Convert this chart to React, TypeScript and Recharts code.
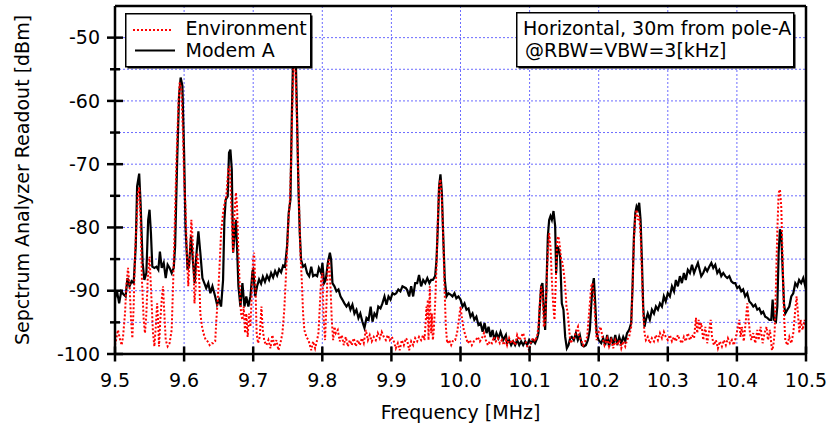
import React from 'react';
import { LineChart, Line, XAxis, YAxis, CartesianGrid, ReferenceLine, Legend, Label } from 'recharts';

const W = 830;
const H = 432;
const MARGIN = { top: 6, right: 24, left: 0, bottom: 0 };
const YAXIS_W = 115;
const XAXIS_H = 78;
const AXIS_X = MARGIN.left + YAXIS_W;
const AXIS_Y = H - MARGIN.bottom - XAXIS_H;
const FONT = '"DejaVu Sans", Arial, sans-serif';
const FS = 19;

const xTicks = [9.5, 9.6, 9.7, 9.8, 9.9, 10.0, 10.1, 10.2, 10.3, 10.4, 10.5];
const yTicks = [-100, -95, -90, -85, -80, -75, -70, -65, -60, -55, -50];
const xDomain: [number, number] = [9.5, 10.5];
const yDomain: [number, number] = [-100, -45];

const seriesNames = ['Environment', 'Modem A'];
const noteLines = ['Horizontal, 30m from pole-A', '@RBW=VBW=3[kHz]'];
const xTitle = 'Frequency [MHz]';
const yTitle = 'Sepctrum Analyzer Readout [dBm]';

// [frequency MHz, dBm]
const modemA: [number, number][] = [
  [9.500,-91.2],[9.503,-90.1],[9.506,-92.0],[9.509,-90.1],[9.5125,-90.6],[9.5154,-90.9],[9.518,-88.0],[9.521,-89.3],[9.524,-88.5],[9.527,-88.8],
  [9.530,-83.0],[9.532,-73.5],[9.535,-71.5],[9.537,-76.1],[9.540,-85.6],[9.5425,-88.3],[9.5454,-87.2],[9.548,-78.8],[9.550,-77.2],[9.552,-80.9],
  [9.554,-86.2],[9.557,-86.4],[9.560,-86.2],[9.5627,-86.7],[9.565,-83.8],[9.5676,-86.4],[9.5705,-85.6],[9.5734,-88.0],[9.5762,-85.9],[9.579,-86.4],
  [9.582,-87.2],[9.585,-86.4],[9.587,-83.0],[9.590,-69.3],[9.5927,-59.2],[9.595,-56.3],[9.5975,-57.6],[9.600,-68.2],[9.602,-79.8],[9.605,-86.7],
  [9.607,-86.2],[9.610,-81.4],[9.613,-85.6],[9.6153,-88.8],[9.618,-84.0],[9.6207,-80.6],[9.6235,-84.0],[9.6265,-88.0],[9.6293,-88.8],[9.632,-89.6],
  [9.635,-88.8],[9.638,-90.4],[9.641,-89.3],[9.645,-90.9],[9.6477,-92.2],[9.6506,-91.4],[9.6535,-92.5],[9.6564,-88.3],[9.6583,-78.8],[9.6602,-75.6],
  [9.6631,-75.1],[9.665,-68.2],[9.667,-67.7],[9.669,-70.8],[9.6709,-84.0],[9.6728,-81.4],[9.675,-78.8],[9.6766,-83.0],[9.6786,-89.3],[9.6815,-92.5],
  [9.6844,-88.8],[9.6873,-92.5],[9.690,-90.9],[9.693,-92.5],[9.696,-90.9],[9.699,-86.9],[9.700,-86.7],[9.703,-90.9],[9.7056,-89.3],[9.7085,-88.2],
  [9.7114,-88.9],[9.714,-87.8],[9.717,-88.6],[9.720,-87.6],[9.723,-88.3],[9.7259,-87.2],[9.7288,-87.9],[9.7317,-86.9],[9.7346,-87.6],[9.7375,-86.6],
  [9.7404,-87.1],[9.7433,-86.0],[9.746,-86.2],[9.749,-83.0],[9.7514,-77.7],[9.7539,-75.6],[9.7558,-62.9],[9.7577,-53.0],[9.7597,-52.0],[9.7616,-53.0],
  [9.7635,-62.9],[9.7654,-73.5],[9.7674,-80.9],[9.7693,-85.1],[9.7722,-86.2],[9.775,-85.9],[9.778,-87.2],[9.781,-87.7],[9.784,-86.2],[9.7867,-87.7],
  [9.7896,-87.5],[9.7925,-87.7],[9.795,-86.4],[9.7983,-87.2],[9.8002,-85.6],[9.8026,-88.8],[9.805,-88.3],[9.808,-85.6],[9.811,-84.0],[9.8128,-85.1],
  [9.8147,-88.8],[9.8176,-89.3],[9.8205,-90.1],[9.8234,-89.8],[9.8263,-90.9],[9.829,-91.4],[9.832,-92.0],[9.835,-92.5],[9.838,-92.0],[9.8407,-93.0],
  [9.8436,-92.2],[9.8465,-93.6],[9.8494,-93.0],[9.8523,-94.3],[9.855,-93.6],[9.858,-94.9],[9.861,-95.9],[9.864,-94.3],[9.867,-94.6],[9.870,-92.5],
  [9.8726,-94.9],[9.8755,-93.6],[9.8784,-94.1],[9.881,-92.5],[9.8842,-92.8],[9.887,-92.0],[9.890,-90.9],[9.8929,-92.2],[9.8958,-90.9],[9.8987,-91.4],
  [9.9016,-90.4],[9.9045,-90.6],[9.907,-90.4],[9.910,-89.8],[9.913,-90.1],[9.916,-89.3],[9.921,-89.6],[9.9228,-89.9],[9.9257,-90.9],[9.9286,-89.3],
  [9.9315,-90.9],[9.9344,-88.8],[9.9373,-88.8],[9.940,-87.5],[9.943,-89.3],[9.946,-88.3],[9.949,-88.8],[9.952,-88.0],[9.955,-88.8],[9.9575,-88.3],
  [9.960,-88.3],[9.9633,-87.7],[9.9653,-85.1],[9.9672,-79.8],[9.969,-73.5],[9.971,-71.6],[9.973,-74.5],[9.975,-81.4],[9.9773,-88.3],[9.9798,-90.9],
  [9.9826,-90.4],[9.9855,-90.6],[9.9884,-90.9],[9.9913,-90.4],[9.994,-91.2],[9.997,-90.9],[10.000,-91.4],[10.003,-92.5],[10.0058,-92.0],[10.0087,-93.0],
  [10.0116,-92.8],[10.0145,-94.1],[10.0174,-93.6],[10.020,-94.6],[10.023,-94.1],[10.026,-95.4],[10.029,-95.1],[10.032,-96.5],[10.0348,-95.1],[10.0377,-96.7],
  [10.0406,-95.7],[10.0435,-97.3],[10.0464,-96.2],[10.049,-97.8],[10.052,-96.7],[10.055,-97.5],[10.058,-96.5],[10.0618,-97.8],[10.0657,-97.0],[10.0675,-98.3],
  [10.0704,-97.8],[10.0733,-98.6],[10.0762,-98.0],[10.079,-98.6],[10.082,-97.8],[10.085,-98.6],[10.0878,-98.0],[10.0907,-98.6],[10.0936,-98.0],[10.0965,-98.6],
  [10.0993,-97.8],[10.102,-98.3],[10.105,-97.8],[10.108,-98.3],[10.111,-97.5],[10.1128,-96.7],[10.1148,-92.5],[10.1167,-89.3],[10.1186,-88.8],[10.1206,-93.0],
  [10.1225,-96.2],[10.1244,-89.3],[10.1264,-81.4],[10.1283,-78.8],[10.1302,-78.2],[10.1322,-78.8],[10.1346,-77.4],[10.137,-79.8],[10.1384,-87.2],[10.1404,-83.0],
  [10.1423,-83.5],[10.1442,-84.6],[10.1466,-92.0],[10.149,-93.0],[10.1515,-97.3],[10.1539,-99.1],[10.1563,-98.6],[10.1587,-97.5],[10.161,-97.3],[10.164,-97.8],
  [10.167,-96.7],[10.1698,-97.8],[10.1727,-97.0],[10.1756,-98.6],[10.1785,-98.8],[10.1814,-98.6],[10.1843,-97.8],[10.1872,-96.2],[10.1891,-92.5],[10.191,-89.3],
  [10.193,-88.0],[10.195,-92.0],[10.197,-96.7],[10.1997,-97.8],[10.2036,-98.3],[10.2065,-97.5],[10.2094,-98.6],[10.2123,-97.0],[10.215,-98.8],[10.218,-97.3],
  [10.221,-98.6],[10.224,-97.0],[10.2268,-98.6],[10.2297,-97.3],[10.2326,-98.3],[10.2355,-97.3],[10.2384,-98.0],[10.241,-96.7],[10.244,-96.2],[10.247,-95.1],
  [10.249,-89.3],[10.251,-81.4],[10.253,-77.7],[10.2548,-76.7],[10.2567,-77.2],[10.2586,-76.1],[10.2606,-78.8],[10.2625,-85.1],[10.2644,-92.5],[10.2663,-95.7],
  [10.2683,-94.6],[10.271,-93.6],[10.274,-94.6],[10.277,-93.0],[10.28,-93.6],[10.2828,-92.5],[10.2857,-93.0],[10.2886,-92.0],[10.2915,-92.5],[10.2943,-90.9],
  [10.297,-91.7],[10.300,-90.4],[10.303,-90.9],[10.306,-89.3],[10.309,-90.1],[10.3117,-88.3],[10.3146,-89.3],[10.3175,-87.7],[10.3204,-88.8],[10.3233,-87.2],
  [10.326,-88.3],[10.329,-86.7],[10.332,-87.2],[10.335,-85.9],[10.338,-87.2],[10.3407,-86.4],[10.3436,-85.6],[10.3465,-86.9],[10.3484,-87.7],[10.3513,-87.2],
  [10.3542,-86.4],[10.357,-86.9],[10.36,-86.2],[10.363,-85.6],[10.3658,-86.4],[10.3687,-85.9],[10.3716,-87.2],[10.3745,-86.7],[10.3774,-87.7],[10.3803,-87.2],
  [10.3832,-87.7],[10.386,-88.0],[10.389,-87.7],[10.392,-88.5],[10.395,-88.8],[10.3976,-88.8],[10.4005,-89.6],[10.4034,-89.3],[10.4063,-90.1],[10.409,-89.8],
  [10.412,-90.9],[10.415,-90.4],[10.418,-91.7],[10.4208,-92.0],[10.4237,-92.5],[10.4266,-92.2],[10.4295,-93.0],[10.4324,-92.8],[10.4353,-93.6],[10.438,-93.3],
  [10.441,-94.1],[10.444,-94.3],[10.447,-94.6],[10.4497,-94.6],[10.4517,-91.4],[10.4536,-94.6],[10.4565,-94.9],[10.4585,-92.5],[10.4604,-84.0],[10.4623,-80.3],
  [10.4642,-80.9],[10.4662,-86.7],[10.4681,-92.0],[10.470,-93.6],[10.473,-93.0],[10.4758,-92.5],[10.4787,-90.9],[10.4816,-90.4],[10.4845,-88.8],[10.4874,-89.3],
  [10.490,-88.3],[10.493,-88.8],[10.496,-88.0],[10.499,-89.3],[10.5,-89.0],
];

const environment: [number, number][] = [
  [9.500,-98.6],[9.502,-97.5],[9.5043,-96.2],[9.5068,-97.5],[9.5096,-98.6],[9.5116,-97.3],[9.5145,-93.6],[9.5164,-89.3],[9.5188,-86.4],[9.5212,-89.3],
  [9.5232,-94.6],[9.5251,-97.5],[9.527,-92.5],[9.529,-84.0],[9.531,-79.8],[9.5333,-74.5],[9.5352,-73.7],[9.537,-78.8],[9.539,-88.3],[9.5415,-94.6],
  [9.5434,-96.7],[9.5454,-93.6],[9.5473,-88.3],[9.550,-84.6],[9.5526,-90.9],[9.555,-96.7],[9.557,-98.8],[9.559,-95.7],[9.561,-92.0],[9.5623,-94.6],
  [9.5637,-98.8],[9.5656,-94.6],[9.5676,-91.4],[9.5695,-89.3],[9.5714,-93.6],[9.5734,-97.8],[9.5762,-98.8],[9.579,-98.3],[9.582,-96.2],[9.584,-89.3],
  [9.586,-81.4],[9.589,-69.3],[9.5917,-60.8],[9.5936,-57.1],[9.596,-58.2],[9.5985,-65.6],[9.600,-72.4],[9.602,-76.7],[9.604,-84.0],[9.606,-89.3],
  [9.608,-85.1],[9.6105,-78.8],[9.613,-83.0],[9.615,-92.0],[9.6168,-89.3],[9.619,-84.0],[9.6216,-87.2],[9.6235,-93.6],[9.626,-95.7],[9.628,-96.7],
  [9.6313,-97.8],[9.634,-98.0],[9.637,-98.6],[9.640,-98.3],[9.642,-98.3],[9.645,-98.0],[9.6467,-94.6],[9.6487,-91.4],[9.6506,-87.7],[9.6535,-80.9],
  [9.6564,-77.7],[9.6583,-76.4],[9.661,-75.1],[9.664,-70.8],[9.666,-70.3],[9.669,-78.8],[9.6709,-84.0],[9.6728,-78.2],[9.675,-74.5],[9.6766,-76.7],
  [9.6786,-84.0],[9.6805,-89.3],[9.6824,-93.6],[9.6844,-94.6],[9.6863,-92.5],[9.6882,-96.7],[9.690,-93.6],[9.692,-97.3],[9.694,-93.6],[9.696,-95.7],
  [9.6979,-90.4],[9.6998,-85.1],[9.7013,-84.0],[9.7032,-89.3],[9.705,-96.7],[9.707,-98.3],[9.7095,-97.3],[9.7119,-92.5],[9.7138,-96.2],[9.7162,-98.0],
  [9.7191,-98.6],[9.722,-97.8],[9.725,-99.1],[9.7278,-97.0],[9.7307,-98.8],[9.7336,-97.8],[9.7365,-99.4],[9.7394,-98.3],[9.7423,-96.7],[9.745,-93.0],
  [9.7471,-88.3],[9.749,-84.0],[9.751,-78.8],[9.7529,-76.1],[9.7548,-69.8],[9.7568,-60.3],[9.7587,-53.0],[9.7606,-53.5],[9.7626,-60.3],[9.7645,-68.2],
  [9.7664,-76.7],[9.7683,-84.0],[9.7703,-88.3],[9.7722,-93.6],[9.774,-96.2],[9.777,-97.3],[9.780,-97.8],[9.784,-99.4],[9.7867,-98.0],[9.7896,-99.1],
  [9.7925,-97.8],[9.7944,-96.7],[9.7964,-92.5],[9.7983,-88.3],[9.8002,-87.2],[9.802,-94.6],[9.804,-97.8],[9.806,-92.0],[9.808,-86.2],[9.8099,-85.1],
  [9.8118,-89.3],[9.8137,-94.6],[9.8157,-97.8],[9.8176,-95.7],[9.8195,-96.7],[9.8224,-96.2],[9.8253,-98.0],[9.8282,-97.0],[9.831,-98.6],[9.834,-97.3],
  [9.837,-98.8],[9.8398,-97.8],[9.8427,-98.6],[9.8456,-97.5],[9.8485,-98.8],[9.8514,-97.8],[9.8543,-98.6],[9.8572,-97.5],[9.860,-98.3],[9.863,-96.2],
  [9.866,-97.8],[9.8687,-97.0],[9.8716,-98.0],[9.8745,-97.3],[9.8774,-97.8],[9.8803,-96.7],[9.8832,-97.5],[9.886,-96.5],[9.889,-97.3],[9.892,-97.8],
  [9.8948,-97.0],[9.8977,-97.8],[9.9006,-97.3],[9.9035,-98.0],[9.9064,-99.1],[9.9093,-98.3],[9.912,-99.4],[9.915,-97.8],[9.918,-98.6],[9.921,-97.5],
  [9.9228,-97.8],[9.9257,-99.4],[9.9286,-98.0],[9.9315,-98.6],[9.9344,-97.5],[9.9373,-98.0],[9.940,-97.3],[9.943,-97.8],[9.946,-97.0],[9.9479,-97.8],
  [9.9498,-94.6],[9.9508,-92.5],[9.9518,-94.6],[9.9527,-91.4],[9.9537,-97.8],[9.9547,-93.6],[9.9556,-89.3],[9.9566,-94.6],[9.9575,-96.7],[9.9585,-93.6],
  [9.960,-97.8],[9.9614,-96.2],[9.9633,-92.0],[9.9653,-86.2],[9.9672,-78.8],[9.969,-73.5],[9.971,-72.4],[9.973,-75.6],[9.975,-81.4],[9.9768,-89.3],
  [9.9788,-95.7],[9.9807,-98.3],[9.9836,-97.8],[9.9865,-98.6],[9.9894,-97.8],[9.9923,-97.8],[9.995,-96.7],[9.9976,-94.6],[10.000,-92.5],[10.0024,-94.6],
  [10.0048,-96.2],[10.0077,-97.3],[10.0106,-98.3],[10.0135,-97.8],[10.0164,-98.6],[10.0193,-98.0],[10.0222,-97.8],[10.025,-97.3],[10.028,-98.0],[10.031,-97.5],
  [10.034,-96.7],[10.0367,-97.8],[10.0396,-98.6],[10.0425,-98.0],[10.0454,-98.3],[10.0483,-97.3],[10.0512,-98.0],[10.054,-97.5],[10.057,-98.3],[10.06,-97.8],
  [10.0628,-98.6],[10.0657,-97.8],[10.0675,-98.6],[10.0704,-97.5],[10.0733,-98.3],[10.0762,-97.8],[10.079,-98.6],[10.082,-97.0],[10.085,-97.8],[10.0878,-97.3],
  [10.0907,-96.7],[10.0936,-97.8],[10.0965,-98.8],[10.0993,-99.4],[10.102,-98.0],[10.105,-97.5],[10.108,-98.0],[10.111,-97.0],[10.1128,-95.7],[10.1148,-92.0],
  [10.1167,-89.3],[10.1186,-90.4],[10.1206,-95.7],[10.1225,-95.1],[10.1244,-89.3],[10.1264,-84.0],[10.1283,-80.9],[10.1302,-83.0],[10.1322,-88.3],[10.134,-92.0],
  [10.136,-94.6],[10.138,-88.3],[10.1399,-81.9],[10.1418,-81.4],[10.1438,-83.0],[10.1457,-85.1],[10.1476,-85.6],[10.1496,-87.2],[10.1515,-89.3],[10.1534,-92.5],
  [10.1553,-93.6],[10.157,-95.7],[10.159,-98.3],[10.162,-97.8],[10.165,-97.3],[10.168,-96.2],[10.170,-95.7],[10.1717,-97.3],[10.1746,-97.8],[10.1775,-98.6],
  [10.1804,-98.0],[10.1833,-97.3],[10.1853,-94.6],[10.1872,-92.0],[10.1891,-89.3],[10.191,-88.8],[10.193,-90.9],[10.195,-94.6],[10.197,-97.8],[10.1997,-96.7],
  [10.2026,-95.7],[10.2055,-97.3],[10.2084,-98.6],[10.2123,-97.5],[10.215,-98.8],[10.218,-97.8],[10.221,-99.1],[10.224,-97.8],[10.2268,-98.6],[10.2297,-97.8],
  [10.2326,-99.1],[10.2355,-98.0],[10.2384,-98.8],[10.241,-97.8],[10.244,-97.3],[10.247,-95.7],[10.249,-89.3],[10.251,-81.9],[10.253,-78.2],[10.2548,-77.2],
  [10.2567,-78.8],[10.2586,-78.2],[10.2606,-80.9],[10.2625,-87.2],[10.2644,-93.6],[10.2663,-96.7],[10.2683,-97.8],[10.271,-97.3],[10.274,-98.3],[10.277,-97.5],
  [10.28,-98.0],[10.2828,-97.0],[10.2857,-97.8],[10.2886,-96.7],[10.2915,-97.5],[10.2943,-96.5],[10.297,-97.3],[10.300,-97.8],[10.303,-97.0],[10.306,-98.0],
  [10.309,-97.3],[10.3117,-98.0],[10.3146,-97.0],[10.3175,-97.8],[10.3204,-98.3],[10.3233,-97.3],[10.326,-98.0],[10.329,-96.7],[10.332,-97.8],[10.335,-97.0],
  [10.338,-97.5],[10.3407,-94.3],[10.3426,-96.7],[10.3446,-94.6],[10.3465,-96.2],[10.3484,-95.1],[10.3513,-97.8],[10.3542,-95.7],[10.357,-98.3],[10.36,-96.2],
  [10.362,-94.6],[10.364,-97.3],[10.3667,-98.6],[10.3696,-97.8],[10.3725,-99.1],[10.3754,-98.0],[10.3783,-98.8],[10.3812,-97.8],[10.384,-98.6],[10.387,-97.5],
  [10.390,-98.3],[10.3928,-97.8],[10.3957,-98.6],[10.3986,-97.3],[10.4015,-95.7],[10.4034,-94.6],[10.4053,-97.3],[10.4073,-95.7],[10.410,-98.0],[10.413,-94.6],
  [10.415,-92.0],[10.417,-94.6],[10.4189,-96.7],[10.4208,-97.8],[10.4237,-96.7],[10.4266,-98.3],[10.4295,-96.2],[10.4314,-97.8],[10.4343,-95.7],[10.4372,-98.3],
  [10.440,-96.7],[10.443,-95.7],[10.4449,-97.8],[10.4478,-96.2],[10.4507,-99.4],[10.4526,-98.8],[10.4546,-96.7],[10.4565,-89.3],[10.4584,-80.9],[10.4604,-74.5],
  [10.4623,-74.0],[10.4642,-76.7],[10.4662,-85.1],[10.4681,-93.6],[10.470,-97.8],[10.473,-98.6],[10.4758,-97.3],[10.4787,-98.3],[10.4816,-96.7],[10.4845,-93.0],
  [10.4864,-90.9],[10.4884,-93.6],[10.4903,-96.7],[10.4922,-94.6],[10.495,-96.2],[10.498,-94.6],[10.500,-96.0],
];

const modemData = modemA.map(([f, v]) => ({ f, v }));
const envData = environment.map(([f, v]) => ({ f, v }));

const textStyle = { fontFamily: FONT, fontSize: FS, fill: '#000' };

const YTick = (props: any) => {
  const { y, payload } = props;
  const v = payload.value as number;
  const major = v % 10 === 0;
  const len = major ? 8 : 5;
  return (
    <g>
      <line x1={AXIS_X - len} x2={AXIS_X + len} y1={y} y2={y} stroke="#000" strokeWidth={2.5} />
      {major && (
        <text x={AXIS_X - 15} y={y + 6.7} textAnchor="end" style={textStyle}>
          {String(v)}
        </text>
      )}
    </g>
  );
};

const XTick = (props: any) => {
  const { x, payload } = props;
  const v = payload.value as number;
  return (
    <g>
      <line x1={x} x2={x} y1={AXIS_Y - 7.5} y2={AXIS_Y + 7.5} stroke="#000" strokeWidth={2.5} />
      <text x={x} y={AXIS_Y + 33} textAnchor="middle" style={textStyle}>
        {v.toFixed(1)}
      </text>
    </g>
  );
};

const XTitle = (props: any) => {
  const vb = props.viewBox || { x: AXIS_X, y: AXIS_Y, width: 691, height: XAXIS_H };
  return (
    <text x={vb.x + vb.width / 2} y={vb.y + 65} textAnchor="middle" style={textStyle}>
      {xTitle}
    </text>
  );
};

const YTitle = (props: any) => {
  const vb = props.viewBox || { x: 0, y: MARGIN.top, width: YAXIS_W, height: AXIS_Y - MARGIN.top };
  const cx = vb.x + 28.5;
  const cy = vb.y + vb.height / 2;
  return (
    <text x={cx} y={cy} textAnchor="middle" transform={`rotate(-90, ${cx}, ${cy})`} style={textStyle}>
      {yTitle}
    </text>
  );
};

const LegendBox = () => (
  <svg width={190} height={58} style={{ display: 'block' }}>
    <rect x={2.5} y={2.5} width={185} height={53} fill="#000" />
    <rect x={0.75} y={0.75} width={185} height={53} fill="#fff" stroke="#000" strokeWidth={1.5} />
    <line x1={8} x2={48} y1={17} y2={17} stroke="#ff0000" strokeWidth={2} strokeDasharray="2 2" />
    <text x={60.5} y={22} style={textStyle}>{seriesNames[0]}</text>
    <line x1={10} x2={50} y1={37.5} y2={37.5} stroke="#000" strokeWidth={2.2} />
    <text x={60.5} y={43.5} style={textStyle}>{seriesNames[1]}</text>
  </svg>
);

const NoteBox = () => (
  <svg width={282} height={58} style={{ position: 'absolute', left: 516, top: 12, display: 'block' }}>
    <rect x={2.5} y={2.5} width={277} height={54} fill="#000" />
    <rect x={0.75} y={0.75} width={277} height={54} fill="#fff" stroke="#000" strokeWidth={1.5} />
    <text x={7} y={23} style={textStyle}>{noteLines[0]}</text>
    <text x={9} y={44.7} style={textStyle}>{noteLines[1]}</text>
  </svg>
);

export default function App() {
  return (
    <div style={{ position: 'absolute', left: 0, top: 0, width: W, height: H, background: '#fff' }}>
      <LineChart width={W} height={H} margin={MARGIN} style={{ fontFamily: FONT }}>
        <CartesianGrid stroke="#6b6bff" strokeDasharray="2 2" strokeWidth={1} />
        <XAxis
          type="number"
          dataKey="f"
          domain={xDomain}
          ticks={xTicks}
          interval={0}
          allowDataOverflow
          height={XAXIS_H}
          tickLine={false}
          axisLine={{ stroke: '#000', strokeWidth: 2.5 }}
          tick={<XTick />}
        >
          <Label content={<XTitle />} />
        </XAxis>
        <YAxis
          type="number"
          dataKey="v"
          domain={yDomain}
          ticks={yTicks}
          interval={0}
          allowDataOverflow
          width={YAXIS_W}
          tickLine={false}
          axisLine={{ stroke: '#000', strokeWidth: 2.5 }}
          tick={<YTick />}
        >
          <Label content={<YTitle />} />
        </YAxis>
        <Line
          data={modemData}
          dataKey="v"
          name={seriesNames[1]}
          type="linear"
          stroke="#000"
          strokeWidth={2.2}
          dot={false}
          isAnimationActive={false}
        />
        <Line
          data={envData}
          dataKey="v"
          name={seriesNames[0]}
          type="linear"
          stroke="#ff0000"
          strokeWidth={2}
          strokeDasharray="2 2"
          dot={false}
          isAnimationActive={false}
        />
        <ReferenceLine x={10.5} stroke="#000" strokeWidth={2.5} />
        <ReferenceLine y={-45} stroke="#000" strokeWidth={2.5} />
        <Legend
          layout="vertical"
          align="center"
          verticalAlign="middle"
          wrapperStyle={{ left: 125, top: 13, width: 190, height: 58, margin: 0, padding: 0 }}
          content={() => <LegendBox />}
        />
      </LineChart>
      <NoteBox />
    </div>
  );
}
